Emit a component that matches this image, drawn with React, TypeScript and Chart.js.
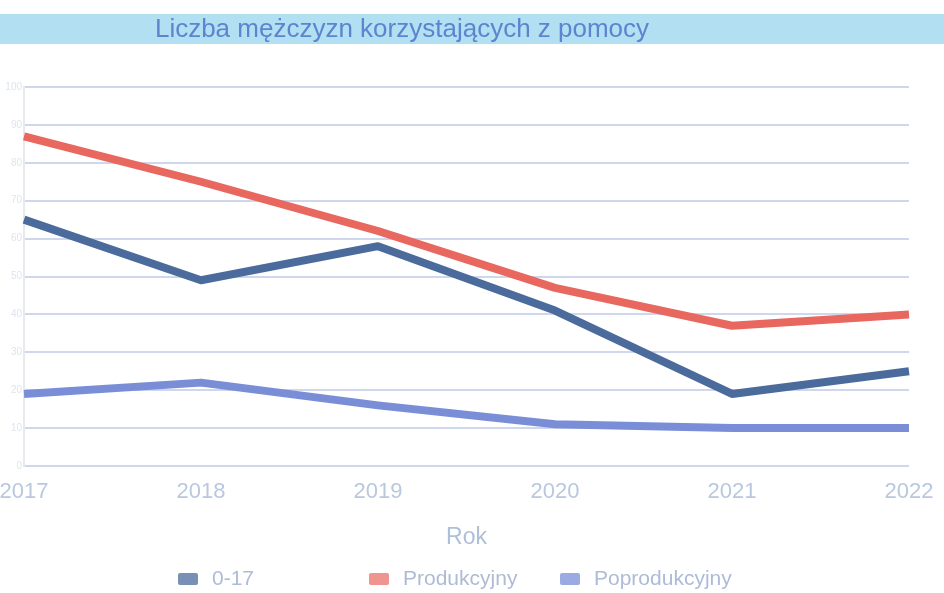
import { useEffect, useRef } from "react";
import { Chart, registerables } from "chart.js";

Chart.register(...registerables);

const chartTitle = "Liczba mężczyzn korzystających z pomocy";
const xAxisTitle = "Rok";
const years = ["2017", "2018", "2019", "2020", "2021", "2022"];
const seriesLabels = ["0-17", "Produkcyjny", "Poprodukcyjny"];
const age0to17 = [65, 49, 58, 41, 19, 25];
const produkcyjny = [87, 75, 62, 47, 37, 40];
const poprodukcyjny = [19, 22, 16, 11, 10, 10];
const lineColors = ["#4b6b9c", "#e8675f", "#7a8ed8"];
const boxColors = ["rgba(75,107,156,0.75)", "rgba(232,103,95,0.7)", "rgba(122,142,216,0.75)"];
const yMin = 0;
const yMax = 100;
const yStep = 10;

const FONT = "'Liberation Sans', Arial, sans-serif";

const decorPlugin = {
  id: "decor",
  beforeDraw(chart: any) {
    const { ctx, width } = chart;
    ctx.save();
    ctx.fillStyle = "#b3dff3";
    ctx.fillRect(0, 14, width, 30);
    ctx.fillStyle = "#5b85cf";
    ctx.font = `26px ${FONT}`;
    ctx.textAlign = "center";
    ctx.textBaseline = "middle";
    ctx.fillText(chartTitle, 402, 30);
    ctx.restore();
  },
  afterDraw(chart: any) {
    const { ctx, chartArea } = chart;
    const colW = 191;
    const cx = (chartArea.left + chartArea.right) / 2 - 2;
    const start = cx - (colW * seriesLabels.length) / 2;
    const y = 579;
    ctx.save();
    ctx.font = `21px ${FONT}`;
    ctx.textBaseline = "middle";
    ctx.textAlign = "left";
    seriesLabels.forEach((label, i) => {
      const x = start + i * colW;
      ctx.fillStyle = boxColors[i];
      ctx.beginPath();
      (ctx as any).roundRect(x, y - 6, 20, 12, 2);
      ctx.fill();
      ctx.fillStyle = "#aebbd6";
      ctx.fillText(label, x + 34, y);
    });
    ctx.restore();
  },
};

export default function App() {
  const ref = useRef<HTMLCanvasElement | null>(null);
  useEffect(() => {
    document.body.style.margin = "0";
    const canvas = ref.current;
    if (!canvas) return;
    const data = [age0to17, produkcyjny, poprodukcyjny];
    const chart = new Chart(canvas, {
      type: "line",
      data: {
        labels: years,
        datasets: seriesLabels.map((label, i) => ({
          label,
          data: data[i],
          borderColor: lineColors[i],
          backgroundColor: boxColors[i],
          borderWidth: 8,
          pointRadius: 0,
          tension: 0,
          borderJoinStyle: "round" as const,
          fill: false,
        })),
      },
      options: {
        animation: false,
        responsive: true,
        maintainAspectRatio: false,
        layout: { padding: { top: 87, right: 35, bottom: 38, left: 0 } },
        plugins: {
          legend: { display: false },
          title: { display: false },
          tooltip: { enabled: false },
        },
        scales: {
          x: {
            grid: { display: false, drawTicks: false },
            border: { display: false },
            ticks: { color: "#b9c7df", font: { family: FONT, size: 22 }, padding: 13, maxRotation: 0 },
            title: {
              display: true,
              text: xAxisTitle,
              color: "#aebfd9",
              font: { family: FONT, size: 23 },
              padding: { top: 5, bottom: 4 },
            },
            afterFit(scale: any) {
              scale.paddingLeft = 0;
              scale.paddingRight = 0;
            },
          },
          y: {
            min: yMin,
            max: yMax,
            ticks: { stepSize: yStep, color: "#dfe5ee", font: { family: FONT, size: 10 }, padding: 2 },
            grid: { color: "#cfd7ec", lineWidth: 2, drawTicks: false },
            border: { display: true, color: "#e6e9ee", width: 2 },
            afterFit(scale: any) {
              scale.width = 24;
            },
          },
        },
      },
      plugins: [decorPlugin],
    });
    return () => chart.destroy();
  }, []);
  return (
    <div style={{ position: "relative", width: 944, height: 593 }}>
      <canvas ref={ref} />
    </div>
  );
}
